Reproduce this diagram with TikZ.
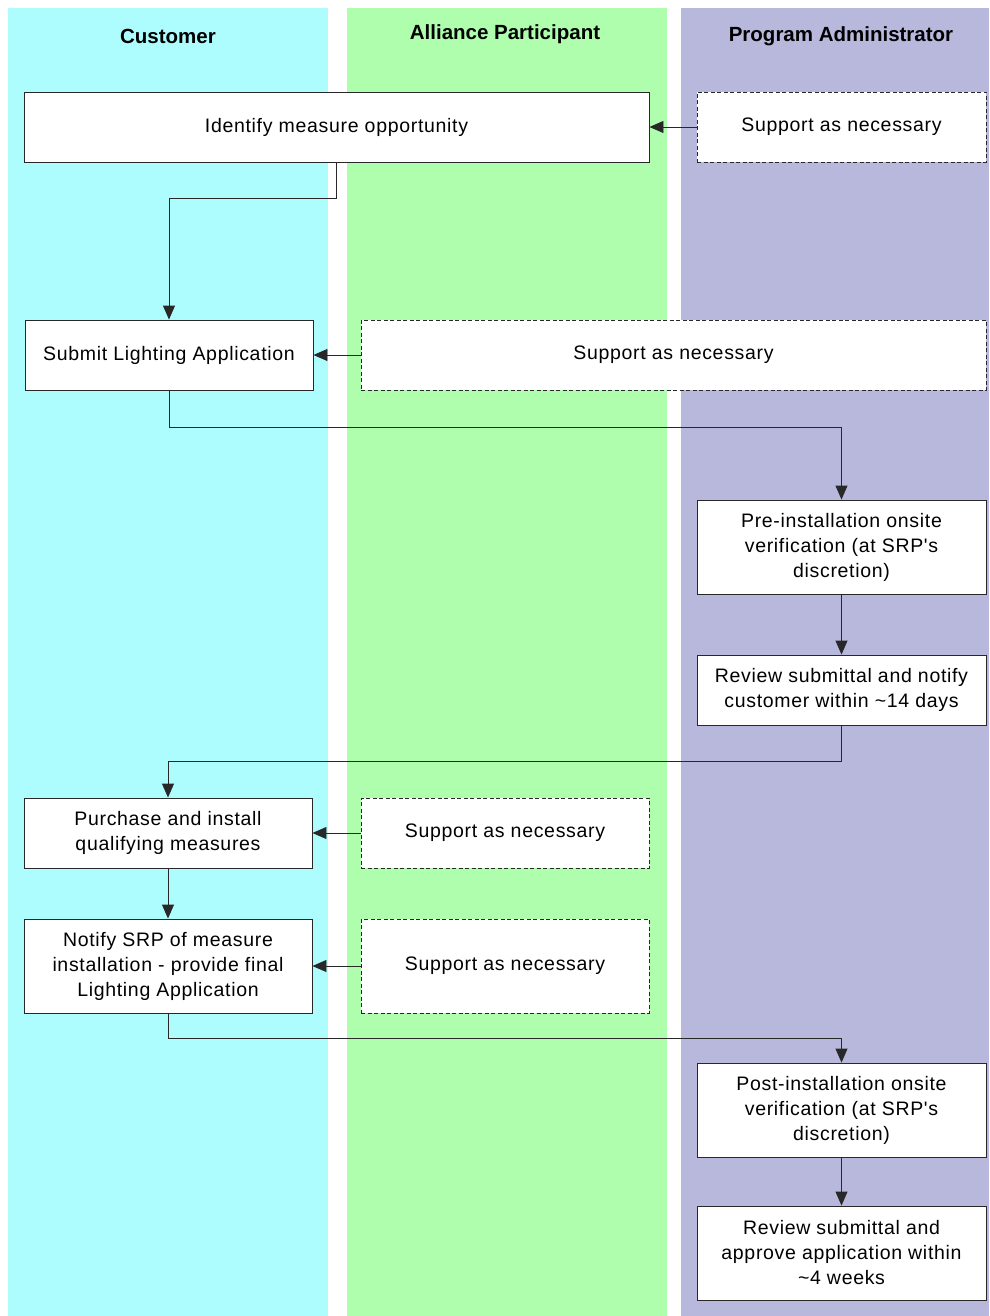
\documentclass[tikz,border=0pt]{standalone}
\usepackage{fontspec}
\setmainfont{Liberation Sans}
\newfontfamily\boxfont[LetterSpace=3.5]{Liberation Sans}
\usetikzlibrary{arrows.meta}
\definecolor{lanecyan}{RGB}{173,253,255}
\definecolor{lanegreen}{RGB}{174,254,174}
\definecolor{lanelav}{RGB}{184,184,221}
\definecolor{edgegray}{RGB}{40,40,40}
\begin{document}
\begin{tikzpicture}[x=1pt,y=-1pt,
  box/.style={draw=edgegray, line width=0.9pt, fill=white, inner sep=0pt, align=center,
    font=\boxfont\fontsize{19.5}{25}\selectfont},
  sbox/.style={box, dashed, dash pattern=on 4pt off 2.5pt},
  hdr/.style={font=\fontsize{20.5}{25}\selectfont\bfseries},
  arr/.style={draw=edgegray, line width=0.9pt, -{Triangle[length=14pt,width=12pt]}}]
\useasboundingbox (0,0) rectangle (989,1316);
% lanes
\fill[lanecyan] (8,8) rectangle (328,1316);
\fill[lanegreen] (347,8) rectangle (667,1316);
\fill[lanelav] (681,8) rectangle (989,1316);
% headers
\node[hdr] (h1) at (168,36) {Customer};
\node[hdr] (h2) at (505,34) {Alliance Participant};
\node[hdr] (h3) at (841,36) {Program Administrator};
% boxes
\node[box, minimum width=625pt, minimum height=70pt] (id) at (336.5,127) {Identify measure opportunity};
\node[sbox, minimum width=289pt, minimum height=70pt] (s1) at (841.5,127) {Support as necessary};
\node[box, minimum width=288pt, minimum height=70pt] (sub) at (169,355) {Submit Lighting Application};
\node[sbox, minimum width=625pt, minimum height=70pt] (s2) at (673.5,355) {Support as necessary};
\node[box, minimum width=289pt, minimum height=94pt] (pre) at (841.5,547) {Pre-installation onsite\\verification (at SRP's\\discretion)};
\node[box, minimum width=289pt, minimum height=70pt] (rev) at (841.5,690) {Review submittal and notify\\customer within \textasciitilde14 days};
\node[box, minimum width=288pt, minimum height=70pt] (pur) at (168,833) {Purchase and install\\qualifying measures};
\node[sbox, minimum width=288pt, minimum height=70pt] (s3) at (505,833) {Support as necessary};
\node[box, minimum width=288pt, minimum height=94pt] (noti) at (168,966) {Notify SRP of measure\\installation - provide final\\Lighting Application};
\node[sbox, minimum width=288pt, minimum height=94pt] (s4) at (505,966) {Support as necessary};
\node[box, minimum width=289pt, minimum height=94pt] (post) at (841.5,1110) {Post-installation onsite\\verification (at SRP's\\discretion)};
\node[box, minimum width=289pt, minimum height=94pt] (appr) at (841.5,1253) {Review submittal and\\approve application within\\\textasciitilde4 weeks};
% connectors
\draw[arr] (id.south) -- ++(0,36) -| (sub.north);
\draw[arr] (s1.west) -- (id.east);
\draw[arr] (s2.west) -- (sub.east);
\draw[arr] (sub.south) -- ++(0,37) -| (pre.north);
\draw[arr] (pre.south) -- (rev.north);
\draw[arr] (rev.south) -- ++(0,36) -| (pur.north);
\draw[arr] (s3.west) -- (pur.east);
\draw[arr] (pur.south) -- (noti.north);
\draw[arr] (s4.west) -- (noti.east);
\draw[arr] (noti.south) -- ++(0,25) -| (post.north);
\draw[arr] (post.south) -- (appr.north);
\end{tikzpicture}
\end{document}
